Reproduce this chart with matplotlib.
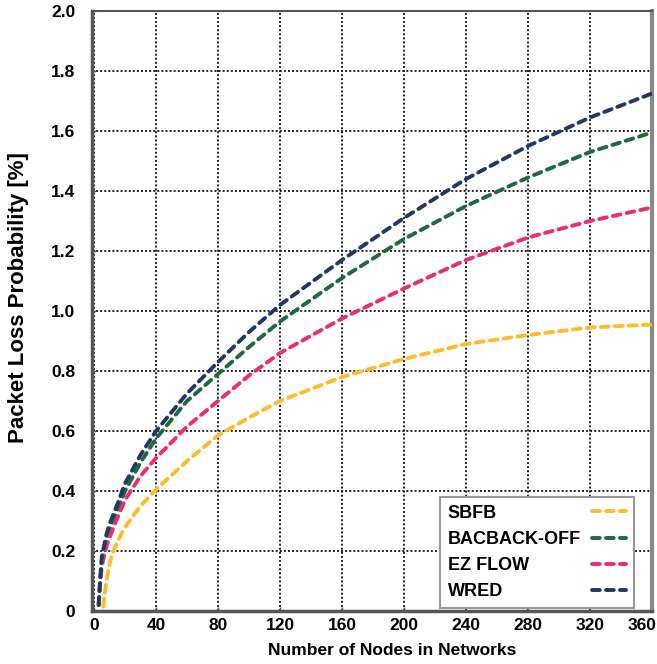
import matplotlib
matplotlib.use("Agg")
import matplotlib.pyplot as plt
import matplotlib.transforms as mtransforms

# ---- data ----
nodes = [3, 4, 5, 8, 10, 15, 20, 30, 40, 60, 80, 100, 120, 160, 200, 240, 280, 320, 360]
backoff = [0.02, 0.10, 0.165, 0.235, 0.27, 0.335, 0.40, 0.495, 0.575, 0.70, 0.79, 0.88, 0.965, 1.11, 1.24, 1.35, 1.445, 1.53, 1.595]
ezflow  = [0.02, 0.09, 0.15, 0.215, 0.245, 0.31, 0.37, 0.45, 0.51, 0.615, 0.70, 0.785, 0.86, 0.975, 1.075, 1.17, 1.245, 1.30, 1.345]
wred    = [0.02, 0.11, 0.18, 0.255, 0.29, 0.355, 0.425, 0.52, 0.60, 0.725, 0.83, 0.93, 1.02, 1.17, 1.31, 1.44, 1.55, 1.645, 1.725]

sbfb_nodes = [6, 7, 8, 10, 12, 16, 20, 30, 40, 60, 80, 100, 120, 160, 200, 240, 280, 320, 360]
sbfb       = [0.015, 0.06, 0.10, 0.155, 0.195, 0.24, 0.28, 0.35, 0.405, 0.50, 0.585, 0.645, 0.70, 0.78, 0.84, 0.89, 0.92, 0.945, 0.955]

series_labels = ["SBFB", "BACBACK-OFF", "EZ FLOW", "WRED"]
series_colors = ["#FDBD2A", "#1E6A3C", "#EC2D6B", "#1F3868"]

x_ticks = [0, 40, 80, 120, 160, 200, 240, 280, 320, 360]
y_ticks = [0, 0.2, 0.4, 0.6, 0.8, 1.0, 1.2, 1.4, 1.6, 1.8, 2.0]
y_tick_labels = ["0", "0.2", "0.4", "0.6", "0.8", "1.0", "1.2", "1.4", "1.6", "1.8", "2.0"]

plt.rcParams['font.family'] = ['Liberation Sans', 'DejaVu Sans']

fig = plt.figure(figsize=(6.57, 6.64), dpi=100)
ax = fig.add_axes([92/657, 53/664, 560/657, 600/664])

xs = [sbfb_nodes, nodes, nodes, nodes]
for xv, vals, lab, col in zip(xs, [sbfb, backoff, ezflow, wred], series_labels, series_colors):
    ax.plot(xv, vals, color=col, lw=2.8, linestyle=(0, (2.0, 1.6)),
            dash_capstyle='round', label=lab, zorder=3)

ax.set_xlim(-1.3, 360)
ax.set_ylim(0, 2.0)
ax.set_xticks(x_ticks)
ax.set_xticklabels([str(t) for t in x_ticks])
ax.set_yticks(y_ticks)
ax.set_yticklabels(y_tick_labels)
ax.grid(True, color='#222222', linestyle=(0, (1, 1.1)), lw=1.4, zorder=1)

ax.tick_params(axis='both', direction='in', length=3, width=1, color='#555555',
               labelsize=12.5)
ax.tick_params(axis='y', pad=12)
ax.tick_params(axis='x', pad=5)
for t in ax.get_xticklabels() + ax.get_yticklabels():
    t.set_fontweight('bold')
# last x tick label sits against the right edge of the picture
last = ax.get_xticklabels()[-1]
last.set_transform(last.get_transform() +
                   mtransforms.ScaledTranslation(-10/100, 0, fig.dpi_scale_trans))

for side in ['left', 'bottom']:
    ax.spines[side].set_linewidth(2.5)
    ax.spines[side].set_color('#555555')
ax.spines['top'].set_linewidth(1.5)
ax.spines['top'].set_color('#555555')
ax.spines['right'].set_linewidth(3)
ax.spines['right'].set_color('#888888')

ax.set_xlabel("Number of Nodes in Networks", fontsize=12.5, fontweight='bold')
ax.xaxis.set_label_coords(0.536, -0.053)
ax.set_ylabel("Packet Loss Probability [%]", fontsize=16, fontweight='bold')
ax.yaxis.set_label_coords(-0.112, 0.523)

leg = ax.legend(loc='lower right', bbox_to_anchor=(634/657, 56/664),
                bbox_transform=fig.transFigure, markerfirst=False,
                prop={'family': ['Liberation Sans', 'DejaVu Sans'], 'weight': 'bold', 'size': 13},
                handlelength=1.9, handletextpad=0.6, labelspacing=0.5,
                borderpad=0.45, borderaxespad=0, fancybox=False, framealpha=1)
leg.get_frame().set_edgecolor('#999999')
leg.get_frame().set_linewidth(1.5)
leg.set_zorder(5)
try:
    for col in leg._legend_handle_box.get_children():
        for row in col.get_children():
            row.mode = 'expand'
            row.width = 178
except Exception:
    pass

fig.savefig("out.png", dpi=100)
